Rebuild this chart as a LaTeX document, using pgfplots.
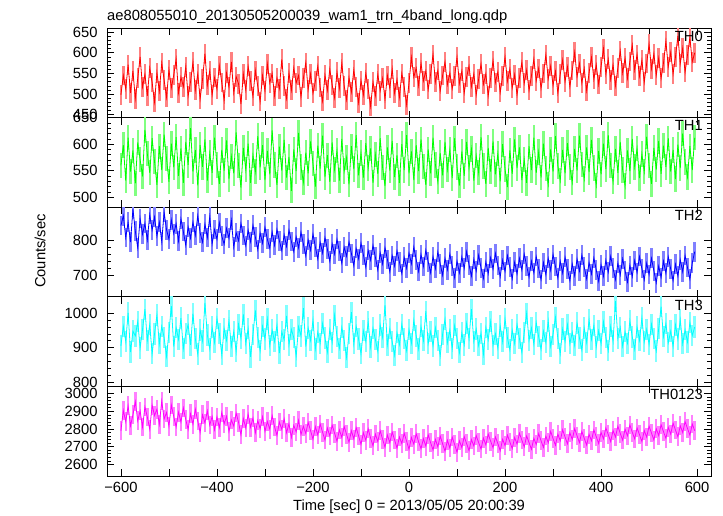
\documentclass[border=0pt]{standalone}
\usepackage{pgfplots}
\pgfplotsset{compat=1.18}
\usepackage{pgfplotstable}
\usepackage{fontspec}
\setmainfont{Liberation Sans}
\definecolor{rd}{rgb}{1,0,0}
\definecolor{gr}{rgb}{0,1,0}
\definecolor{bl}{rgb}{0,0,1}
\definecolor{cy}{rgb}{0,1,1}
\definecolor{mg}{rgb}{1,0,1}

\pgfplotstableread{
t a b c d e
-600 498 560 842 905 2790
-595 545 598 870 962 2905
-590 512 531 808 918 2842
-585 571 612 851 1001 2931
-580 503 548 795 887 2818
-575 556 588 889 948 2880
-570 489 526 826 934 2955
-565 538 603 779 976 2846
-560 590 571 862 899 2902
-555 517 539 817 953 2811
-550 548 627 848 1012 2925
-545 496 582 801 921 2868
-540 563 546 873 967 2799
-535 528 611 829 882 2934
-530 481 567 866 940 2876
-525 552 523 812 995 2912
-520 507 596 851 911 2826
-515 575 551 797 962 2958
-510 534 618 880 929 2857
-505 492 573 830 874 2893
-500 559 529 803 945 2815
-495 515 601 858 1021 2936
-490 546 556 819 903 2870
-485 585 613 847 958 2812
-480 503 540 798 924 2895
-475 541 592 861 986 2840
-470 518 527 825 897 2919
-465 566 604 786 941 2853
-460 495 561 838 967 2798
-455 530 630 806 908 2886
-450 577 548 852 999 2827
-445 509 589 814 926 2912
-440 549 522 870 881 2845
-435 488 598 821 951 2781
-430 536 557 795 919 2880
-425 598 609 846 1030 2834
-420 521 531 808 937 2903
-415 557 583 867 896 2822
-410 498 546 790 960 2871
-405 540 612 831 915 2796
-400 512 561 803 985 2868
-395 569 525 850 942 2807
-390 528 589 812 879 2893
-385 485 550 789 956 2829
-380 551 607 834 921 2872
-375 517 534 806 978 2785
-370 578 577 857 904 2851
-365 503 545 781 947 2816
-360 542 622 822 888 2890
-355 525 560 799 968 2838
-350 476 518 848 927 2767
-345 548 593 814 997 2859
-340 510 552 785 912 2806
-335 567 601 829 955 2884
-330 531 527 796 873 2810
-325 494 579 843 938 2862
-320 557 548 809 1008 2779
-315 519 615 774 930 2848
-310 482 556 821 891 2801
-305 545 598 792 962 2869
-300 508 532 837 925 2787
-295 573 587 803 983 2842
-290 527 543 778 906 2799
-285 550 626 824 951 2876
-280 496 561 786 917 2812
-275 539 523 831 966 2764
-270 513 595 799 884 2840
-265 584 550 771 946 2797
-260 520 608 816 923 2858
-255 489 537 783 992 2779
-250 552 576 829 908 2830
-245 509 512 797 953 2752
-240 563 590 768 929 2821
-235 527 549 810 874 2783
-230 545 621 779 961 2849
-225 493 557 823 934 2768
-220 538 528 790 1015 2816
-215 576 584 756 903 2775
-210 511 545 801 957 2838
-205 549 605 772 921 2790
-200 502 563 818 980 2742
-195 531 520 781 896 2813
-190 568 597 747 945 2766
-185 516 554 795 913 2829
-180 483 616 764 970 2781
-175 546 538 808 928 2737
-170 509 579 775 887 2806
-165 560 529 741 952 2760
-160 522 603 790 915 2822
-155 491 552 761 994 2776
-150 553 588 803 932 2731
-145 514 531 769 898 2795
-140 575 610 735 959 2752
-135 520 549 781 920 2814
-130 486 575 755 871 2769
-125 540 524 796 941 2725
-120 505 596 763 1003 2790
-115 558 553 728 911 2744
-110 517 617 777 962 2808
-105 479 541 748 925 2761
-100 533 583 792 882 2713
-95 498 537 759 949 2779
-90 551 602 724 918 2736
-85 512 555 771 975 2801
-80 470 592 744 902 2748
-75 529 527 786 957 2705
-70 496 580 752 923 2771
-65 548 544 716 889 2729
-60 508 611 765 966 2790
-55 538 556 733 930 2742
-50 487 521 779 1024 2697
-45 545 594 746 908 2766
-40 514 550 711 955 2722
-35 561 606 757 917 2783
-30 502 538 727 878 2738
-25 535 579 770 943 2691
-20 492 527 739 909 2755
-15 550 600 706 968 2718
-10 518 551 752 926 2776
-5 474 617 721 891 2731
0 527 545 764 952 2685
5 589 586 734 913 2752
10 541 532 781 979 2714
15 563 598 745 934 2773
20 520 549 712 896 2727
25 575 609 760 961 2689
30 532 558 726 920 2745
35 556 523 772 1006 2703
40 511 590 739 912 2767
45 548 545 708 947 2722
50 596 612 754 905 2681
55 529 561 720 958 2741
60 557 529 767 921 2699
65 507 583 733 876 2760
70 545 541 701 939 2716
75 578 604 749 983 2674
80 523 552 717 914 2736
85 551 590 761 951 2692
90 513 536 727 897 2754
95 543 611 694 964 2712
100 589 557 741 927 2669
105 526 522 708 885 2733
110 556 586 753 943 2695
115 503 540 721 908 2757
120 541 604 768 971 2717
125 568 555 731 926 2678
130 518 591 699 1012 2740
135 549 531 746 918 2704
140 498 578 713 954 2763
145 536 546 758 906 2723
150 573 613 722 942 2687
155 524 559 692 881 2748
160 549 525 739 959 2710
165 496 593 706 923 2771
170 538 548 751 976 2731
175 581 605 719 907 2694
180 528 543 763 940 2755
185 554 582 729 898 2718
190 504 530 697 963 2677
195 543 600 744 917 2742
200 590 553 712 984 2706
205 531 519 757 929 2765
210 561 588 724 893 2727
215 515 544 691 951 2689
220 547 609 738 912 2752
225 498 555 705 968 2715
230 539 594 749 926 2776
235 577 532 716 886 2737
240 526 571 761 944 2699
245 558 527 728 1000 2761
250 509 596 696 921 2723
255 544 551 741 957 2685
260 585 612 708 910 2748
265 532 546 754 973 2712
270 562 585 720 932 2774
275 514 537 689 895 2733
280 550 601 737 948 2696
285 595 554 703 915 2760
290 537 524 749 977 2722
295 568 590 715 904 2786
300 521 548 760 939 2746
305 555 615 726 988 2708
310 502 559 693 926 2771
315 548 531 741 882 2733
320 583 589 707 954 2796
325 530 545 752 918 2754
330 566 602 718 967 2716
335 518 557 686 911 2779
340 557 528 733 945 2740
345 601 591 700 906 2802
350 542 550 747 972 2761
355 574 616 713 928 2723
360 527 562 758 893 2786
365 562 534 724 957 2747
370 508 594 691 915 2709
375 551 547 737 981 2770
380 589 608 705 924 2733
385 536 555 750 965 2795
390 571 522 716 902 2756
395 523 587 684 949 2718
400 566 543 731 911 2781
405 610 601 698 975 2744
410 548 553 744 930 2806
415 584 617 710 891 2768
420 535 560 755 962 2729
425 571 529 721 919 2792
430 520 591 689 1035 2754
435 563 546 735 927 2816
440 605 604 702 959 2775
445 551 551 748 904 2737
450 587 521 714 946 2799
455 538 588 682 913 2761
460 579 549 729 978 2823
465 619 610 697 931 2782
470 558 557 743 895 2744
475 596 592 709 960 2806
480 543 536 754 921 2768
485 582 581 720 986 2729
490 529 548 688 917 2791
495 574 614 735 953 2754
500 621 560 703 909 2816
505 561 525 749 968 2777
510 598 593 714 926 2738
515 546 552 680 890 2801
520 587 606 727 955 2763
525 538 544 695 1019 2824
530 575 597 741 932 2785
535 628 557 707 970 2747
540 566 611 753 914 2809
545 601 548 719 948 2771
550 549 589 686 903 2833
555 590 534 732 966 2794
560 641 599 699 925 2756
565 574 555 745 981 2818
570 611 620 711 911 2780
575 553 566 757 952 2842
580 594 538 723 916 2803
585 637 596 690 973 2765
590 578 551 736 935 2828
595 600 612 768 960 2790
}\lc

\pgfplotsset{panel/.style={
  scale only axis, width=604bp, height=89.6bp, anchor=north west,
  xmin=-629, xmax=629,
  xtick={-600,-500,...,600}, xticklabels={},
  minor y tick num=4,
  tick pos=both, tick align=inside,
  major tick length=7bp, minor tick length=4bp,
  every tick/.style={black, line width=0.6bp},
  axis line style={black, line width=0.8bp},
  /pgf/number format/assume math mode=true,
  /pgf/number format/1000 sep={},
  ticklabel style={font=\fontsize{14.8}{17}\selectfont},
  yticklabel style={xshift=-6bp},
  xticklabel style={yshift=-3bp},
}}
\newcommand{\lab}[1]{\node[anchor=north east, inner sep=0pt, font=\fontsize{14.8}{17}\selectfont] at (rel axis cs:1,1) [xshift=-8bp, yshift=-3bp] {#1};}
% light error-bar layer, then the line on top
\newcommand{\series}[3]{%
  \addplot[draw=none, no markers, forget plot,
    error bars/.cd, y dir=both, y fixed=#3, error mark=none,
    error bar style={draw=#2!50!white, line width=2.4bp}] table[x=t,y=#1]{\lc};
  \addplot[#2, no markers, line width=0.8bp] table[x=t,y=#1]{\lc};
}

\begin{document}
\begin{tikzpicture}
\path[use as bounding box] (-107bp,28bp) rectangle (616bp,-488bp);
\node[anchor=base west, inner sep=0pt, font=\fontsize{14.8}{17}\selectfont] at (0bp,8bp) {ae808055010\_20130505200039\_wam1\_trn\_4band\_long.qdp};

\begin{axis}[panel, at={(0bp,0bp)}, ymin=443, ymax=660, ytick={450,500,...,650}]
\series{a}{rd}{24}
\lab{TH0}
\end{axis}

\begin{axis}[panel, at={(0bp,-89.6bp)}, ymin=481, ymax=650, ytick={500,550,600,650}]
\series{b}{gr}{24}
\lab{TH1}
\end{axis}

\begin{axis}[panel, at={(0bp,-179.2bp)}, ymin=640, ymax=894, ytick={700,800}]
\series{c}{bl}{28}
\lab{TH2}
\end{axis}

\begin{axis}[panel, at={(0bp,-268.8bp)}, ymin=787, ymax=1048, ytick={800,900,1000}]
\series{d}{cy}{31}
\lab{TH3}
\end{axis}

\begin{axis}[panel, at={(0bp,-358.4bp)}, ymin=2534, ymax=3041, ytick={2600,2700,...,3000},
  xticklabels={−600,,−400,,−200,,0,,200,,400,,600}]
\series{e}{mg}{53}
\lab{TH0123}
\end{axis}

\node[rotate=90, font=\fontsize{14.8}{17}\selectfont] at (-67bp,-223bp) {Counts/sec};
\node[font=\fontsize{14.8}{17}\selectfont] at (302bp,-479bp) {Time [sec] 0 = 2013/05/05 20:00:39};
\end{tikzpicture}
\end{document}
